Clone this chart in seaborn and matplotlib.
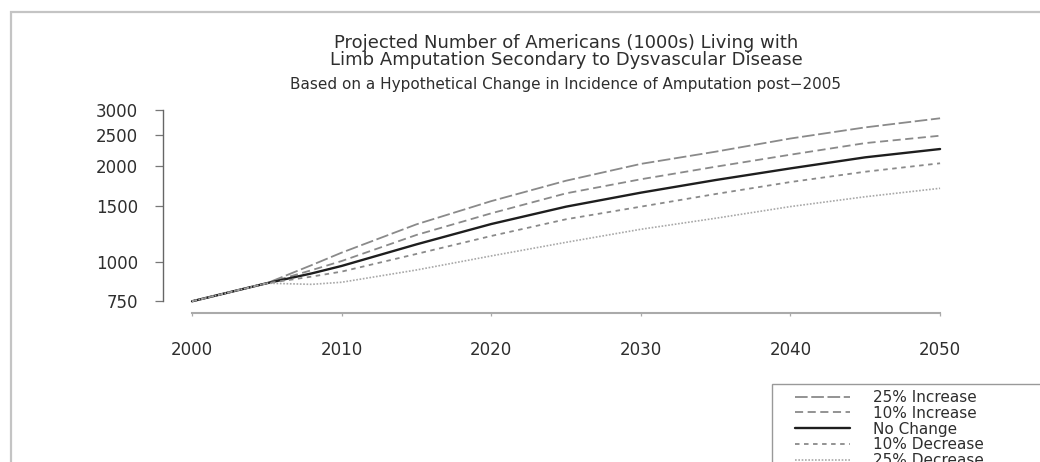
import numpy as np
import pandas as pd
import seaborn as sns
import matplotlib.pyplot as plt
from matplotlib.patches import Rectangle
from matplotlib.ticker import NullLocator

# Data (thousands of people)
years = [2000, 2005, 2008, 2010, 2015, 2020, 2025, 2030, 2035, 2040, 2045, 2050]
inc_25 = [750, 855, 975, 1067, 1310, 1550, 1797, 2030, 2218, 2440, 2645, 2825]
inc_10 = [750, 855, 940, 1004, 1213, 1419, 1640, 1816, 1989, 2170, 2360, 2490]
no_change = [750, 855, 918, 969, 1133, 1313, 1489, 1648, 1806, 1965, 2129, 2261]
dec_10 = [750, 855, 897, 930, 1057, 1204, 1359, 1489, 1632, 1780, 1918, 2039]
dec_25 = [750, 855, 848, 861, 941, 1042, 1150, 1264, 1369, 1490, 1600, 1701]

scenarios = ['25% Increase', '10% Increase', 'No Change', '10% Decrease', '25% Decrease']
y_ticks = [750, 1000, 1500, 2000, 2500, 3000]
x_ticks = [2000, 2010, 2020, 2030, 2040, 2050]

df = pd.DataFrame({
    'Year': years * len(scenarios),
    'Amputees': inc_25 + inc_10 + no_change + dec_10 + dec_25,
    'Scenario': np.repeat(scenarios, len(years)),
})

# line styles per scenario
line_colors = {'25% Increase': '#8a8a8a', '10% Increase': '#8a8a8a', 'No Change': '#1e1e1e',
               '10% Decrease': '#8a8a8a', '25% Decrease': '#a8a8a8'}
line_dashes = {'25% Increase': (7, 2), '10% Increase': (4.5, 2.5), 'No Change': '',
               '10% Decrease': (2.5, 2.5), '25% Decrease': (1, 1)}
line_widths = {'25% Increase': 1.3, '10% Increase': 1.3, 'No Change': 1.7,
               '10% Decrease': 1.3, '25% Decrease': 1.2}

sns.set_style('white')
plt.rcParams['font.family'] = ['DejaVu Sans']
text_color = '#2e2e2e'

fig = plt.figure(figsize=(10.4, 4.62), dpi=100)
ax = fig.add_axes([163 / 1040, 1 - 313 / 462, (970 - 163) / 1040, (313 - 102) / 462])

sns.lineplot(data=df, x='Year', y='Amputees', hue='Scenario', style='Scenario', size='Scenario',
             hue_order=scenarios, style_order=scenarios, size_order=scenarios,
             palette=line_colors, dashes=line_dashes, sizes=line_widths, ax=ax)

ax.set_yscale('log')
ax.set_xlim(1998.06, 2052)
ax.set_ylim(689, 3179)
ax.set_yticks(y_ticks)
ax.set_yticklabels([str(v) for v in y_ticks])
ax.yaxis.set_minor_locator(NullLocator())
ax.set_xticks(x_ticks)
ax.set_xticklabels([str(v) for v in x_ticks])
ax.set_xlabel('')
ax.set_ylabel('')

sns.despine(ax=ax)
ax.spines['left'].set_bounds(750, 3000)
ax.spines['bottom'].set_bounds(2000, 2050)
ax.spines['left'].set_color('#666666')
ax.spines['left'].set_linewidth(1.0)
ax.spines['bottom'].set_color('#aaaaaa')
ax.spines['bottom'].set_linewidth(1.5)

ax.tick_params(axis='y', direction='out', length=6, width=0.9, color='#777777',
               pad=12, labelsize=12, labelcolor=text_color, left=True)
ax.tick_params(axis='x', direction='out', length=2.5, width=0.9, color='#aaaaaa',
               pad=18, labelsize=12, labelcolor=text_color, bottom=True)

# Titles
fig.text(566 / 1040, 1 - 43 / 462, 'Projected Number of Americans (1000s) Living with',
         ha='center', va='center', fontsize=13, color=text_color)
fig.text(566 / 1040, 1 - 60 / 462, 'Limb Amputation Secondary to Dysvascular Disease',
         ha='center', va='center', fontsize=13, color=text_color)
fig.text(566 / 1040, 1 - 84 / 462,
         'Based on a Hypothetical Change in Incidence of Amputation post\u22122005',
         ha='center', va='center', fontsize=11, color=text_color)

# Legend (box drawn separately so it runs off the figure like the reference)
handles, labels = ax.get_legend_handles_labels()
ax.get_legend().remove()
fig.legend(handles, labels, loc='upper left', bbox_to_anchor=(795 / 1040, 1 - 390 / 462),
           frameon=False, borderpad=0, borderaxespad=0, fontsize=11, handlelength=3.6,
           handletextpad=1.5, labelspacing=0.05, labelcolor=text_color)
fig.add_artist(Rectangle((772 / 1040, -0.1), 0.3, 1 - 384 / 462 + 0.1, transform=fig.transFigure,
                         fill=False, edgecolor='#999999', linewidth=1.0))

# Outer border of the original figure
fig.add_artist(Rectangle((10.5 / 1040, -0.1), 1.2, 1 - 12 / 462 + 0.1, transform=fig.transFigure,
                         fill=False, edgecolor='#c4c4c4', linewidth=1.6))

fig.savefig('out.png', dpi=100)
